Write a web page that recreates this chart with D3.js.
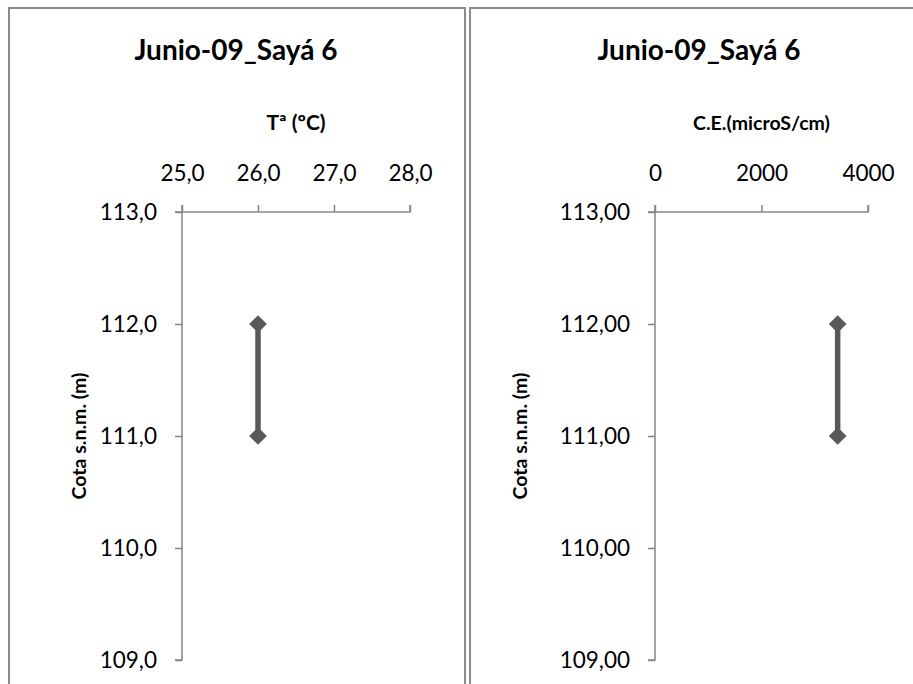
<!DOCTYPE html>
<html><head><meta charset="utf-8">
<script src="https://cdn.jsdelivr.net/npm/d3@7"></script>
<style>
body{margin:0;background:#fff;}
svg{display:block;}
text{font-family:Lato,"Open Sans",sans-serif;fill:#000;}
</style></head><body>
<svg id="c" width="913" height="684"></svg>
<script>
const title = "Junio-09_Sayá 6";
const yTitle = "Cota s.n.m. (m)";
const cota = [112, 111];
const temp = [26.0, 26.0];
const ce = [3430, 3430];
const tempTicks = [25, 26, 27, 28];
const ceTicks = [0, 2000, 4000];
const cotaTicks = [113, 112, 111, 110, 109];

const svg = d3.select("#c");
const grey = "#595959";
const axisGrey = "#868686";

function panel(opt) {
  const g = svg.append("g").attr("transform", `translate(${opt.px},7)`);
  g.append("rect").attr("x", 1).attr("y", 1).attr("width", opt.pw).attr("height", 720)
    .attr("fill", "#fff").attr("stroke", "#8c8c8c").attr("stroke-width", 2);
  g.append("text").attr("x", opt.pw / 2).attr("y", 53).attr("text-anchor", "middle")
    .attr("font-size", 28).attr("font-weight", "bold").text(title);
  const x = d3.scaleLinear().domain(opt.xdom).range([opt.x0, opt.x1]);
  const y = d3.scaleLinear().domain([113, 109]).range([205, 653]);
  const xa = g.append("g").attr("transform", `translate(0,${y(113)})`)
    .call(d3.axisTop(x).tickValues(opt.xticks).tickFormat(opt.xfmt).tickSize(7).tickPadding(24));
  const ya = g.append("g").attr("transform", `translate(${x(opt.xdom[0])},0)`)
    .call(d3.axisLeft(y).tickValues(cotaTicks).tickFormat(opt.yfmt).tickSize(7).tickPadding(18));
  [xa, ya].forEach(a => {
    a.select(".domain").attr("stroke", axisGrey).attr("stroke-width", 1.5);
    a.selectAll(".tick line").attr("stroke", axisGrey).attr("stroke-width", 1.5);
    a.selectAll(".tick text").attr("font-size", 22.5).attr("font-family", "Lato").attr("fill", "#000");
  });
  ya.select(".domain").attr("d", `M-7,${y(113)}H0V${y(109)}H-7`);
  xa.select(".domain").attr("d", `M${x(opt.xdom[0])},-7V0H${x(opt.xdom[1])}V-7`);
  g.append("text").attr("x", (opt.x0 + opt.x1) / 2).attr("y", 123).attr("text-anchor", "middle")
    .attr("font-size", opt.xTitleSize).attr("font-weight", "bold").text(opt.xTitle);
  g.append("text").attr("transform", `translate(${opt.yTitleX},${(y(113) + y(109)) / 2}) rotate(-90)`)
    .attr("text-anchor", "middle").attr("font-size", 19.5).attr("font-weight", "bold").text(yTitle);
  const pts = cota.map((c, i) => [x(opt.vals[i]), y(c)]);
  g.append("path").attr("d", d3.line()(pts)).attr("stroke", grey).attr("stroke-width", 5.5).attr("fill", "none");
  g.selectAll(".mk").data(pts).join("path")
    .attr("d", d3.symbol(d3.symbolDiamond2, 200)())
    .attr("transform", d => `translate(${d[0]},${d[1]})`).attr("fill", grey);
}

panel({px: 8, pw: 456, xdom: [25, 28], x0: 174, x1: 402, xticks: tempTicks,
  xfmt: d => d3.format(".1f")(d).replace(".", ","), yfmt: d => d3.format(".1f")(d).replace(".", ","),
  xTitle: "Tª (ºC)", xTitleSize: 21, yTitleX: 78, vals: temp});
panel({px: 469, pw: 460, xdom: [0, 4000], x0: 186, x1: 399, xticks: ceTicks,
  xfmt: d => String(d), yfmt: d => d3.format(".2f")(d).replace(".", ","),
  xTitle: "C.E.(microS/cm)", xTitleSize: 19.5, yTitleX: 58, vals: ce});
</script></body></html>
